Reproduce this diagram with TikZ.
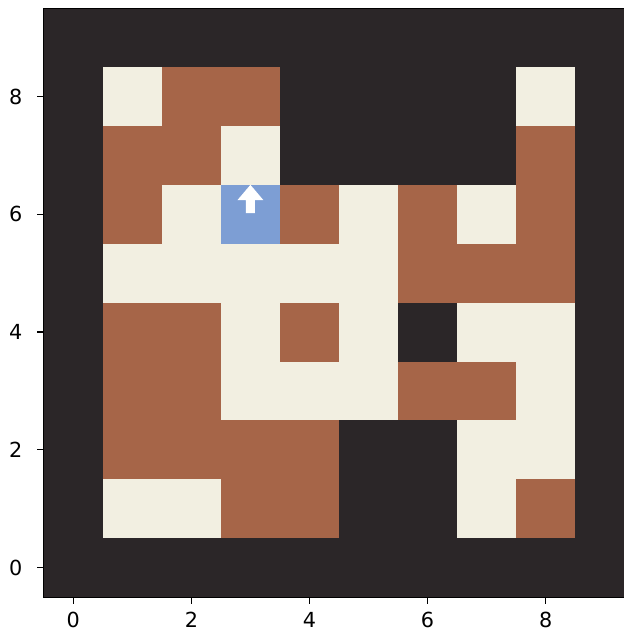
\documentclass[tikz,border=0pt]{standalone}
\usepackage{fontspec}
\setmainfont{DejaVu Sans}
\definecolor{wallc}{RGB}{43,38,40}
\definecolor{floorc}{RGB}{242,239,225}
\definecolor{dirtc}{RGB}{166,101,72}
\definecolor{agentc}{RGB}{125,158,212}
\tikzset{
  cellW/.style={fill=wallc},
  cellF/.style={fill=floorc},
  cellR/.style={fill=dirtc},
  cellA/.style={fill=agentc},
  tick/.style={line width=0.6pt}
}
\begin{document}
\begin{tikzpicture}[x=1cm,y=0.9975cm,font=\fontsize{10}{12}\selectfont]
\useasboundingbox (-1.241,-1.126) rectangle (9.326,9.638);
\fill[wallc] (-0.5,-0.5) rectangle (9.5,9.5);
% grid rows, top to bottom
\foreach \y/\row in {8/{W,F,R,R,W,W,W,W,F,W},7/{W,R,R,F,W,W,W,W,R,W},
  6/{W,R,F,A,R,F,R,F,R,W},5/{W,F,F,F,F,F,R,R,R,W},4/{W,R,R,F,R,F,W,F,F,W},
  3/{W,R,R,F,F,F,R,R,F,W},2/{W,R,R,R,R,W,W,F,F,W},1/{W,F,F,R,R,W,W,F,R,W}} {
\foreach \c [count=\i] in \row
  \fill[cell\c] (\i-1.5,\y-0.5) rectangle ++(1,1);
}
% agent heading
\fill[white] (3,6.5)--(2.78,6.24)--(2.924,6.24)--(2.924,6.02)--(3.076,6.02)--(3.076,6.24)--(3.22,6.24)--cycle;
\draw[line width=0.6pt] (-0.5,9.5)--(-0.5,-0.5)--(9.5,-0.5)--(9.5,9.5)--cycle;
\foreach \v in {0,2,4,6,8} {
\draw[tick] (\v,-0.5)--++(0,-0.12);
\node (xt\v) at (\v,-0.89) {\v};
\draw[tick] (-0.5,\v)--++(-0.12,0);
\node[anchor=east] (yt\v) at (-0.74,\v) {\v};
}
\end{tikzpicture}
\end{document}
